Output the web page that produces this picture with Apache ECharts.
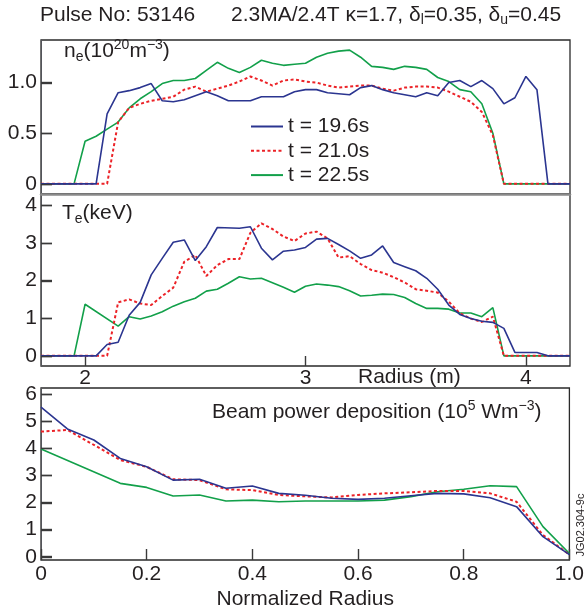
<!DOCTYPE html>
<html>
<head>
<meta charset="utf-8">
<script src="https://cdn.jsdelivr.net/npm/echarts@6/dist/echarts.min.js"></script>
<style>html,body{margin:0;padding:0;background:#fff;}#c{width:587px;height:614px;}</style>
</head>
<body>
<div id="c"></div>
<script>
// Major radius grid (m) for panels 1 and 2
var radius = [1.80,1.85,1.90,1.95,2.00,2.05,2.10,2.15,2.20,2.25,2.30,2.35,2.40,2.45,2.50,2.55,2.60,2.65,2.70,2.75,
  2.80,2.85,2.90,2.95,3.00,3.05,3.10,3.15,3.20,3.25,3.30,3.35,3.40,3.45,3.50,3.55,3.60,3.65,3.70,3.75,
  3.80,3.85,3.90,3.95,4.00,4.05,4.10,4.15,4.20];
var seriesNames = ['t = 19.6s', 't = 21.0s', 't = 22.5s'];

// Electron density ne (10^20 m^-3)
var ne196 = [0,0,0,0,0,0,0.69,0.90,0.92,0.95,0.99,0.82,0.81,0.83,0.87,0.91,0.87,0.82,0.82,0.82,
  0.86,0.86,0.86,0.91,0.93,0.93,0.90,0.89,0.88,0.95,0.97,0.93,0.90,0.88,0.86,0.90,0.87,1.00,1.02,0.96,
  1.02,0.94,0.79,0.85,1.06,0.93,0,0,0];
var ne210 = [0,0,0,0,0,0,0,0.61,0.75,0.79,0.82,0.84,0.86,0.93,0.96,0.91,0.94,0.97,1.01,1.06,
  1.02,0.97,1.02,1.03,1.01,1.00,0.97,0.95,0.96,0.97,0.97,0.94,0.92,0.95,0.96,0.96,0.95,0.91,0.86,0.81,
  0.71,0.48,0,0,0,0,0,0,0];
var ne225 = [0,0,0,0,0.42,0.47,0.54,0.61,0.75,0.84,0.91,0.99,1.02,1.02,1.04,1.12,1.20,1.14,1.10,1.15,
  1.22,1.19,1.17,1.18,1.19,1.25,1.29,1.31,1.32,1.25,1.16,1.15,1.13,1.16,1.15,1.13,1.05,1.01,0.93,0.91,
  0.79,0.50,0,0,0,0,0,0,0];

// Electron temperature Te (keV)
var te196 = [0,0,0,0,0,0,0.30,0.36,1.08,1.42,2.15,2.59,3.02,3.08,2.53,2.90,3.41,null,3.39,3.43,
  2.86,2.55,2.78,2.81,2.88,3.10,3.12,2.96,2.79,2.59,2.68,2.92,2.48,2.37,2.26,2.06,1.77,1.35,1.10,0.99,
  0.92,0.89,0.73,0.09,0.09,0.09,0,0,0];
var te210 = [0,0,0,0,0,0,0,1.42,1.50,1.39,1.35,1.59,1.81,2.50,2.68,2.12,2.41,2.57,2.57,3.27,
  3.52,3.37,3.17,3.05,3.25,3.30,3.12,2.61,2.65,2.44,2.28,2.21,2.09,1.95,1.77,1.73,1.68,1.44,1.13,0.99,
  0.90,1.04,0,0,0,0,0,0,0];
var te225 = [0,0,0,0,1.37,null,null,0.79,1.04,0.98,1.06,1.17,1.32,1.44,1.53,1.72,1.77,1.93,2.10,2.04,
  2.06,1.94,1.82,1.69,1.85,1.91,1.88,1.84,1.73,1.59,1.61,1.64,1.63,1.55,1.39,1.26,1.26,1.24,1.14,1.14,
  1.04,1.28,0,0,0,0,0,0,0];

// Beam power deposition (10^5 W m^-3) vs normalized radius
var rho = [0,0.05,0.10,0.15,0.20,0.25,0.30,0.35,0.40,0.45,0.50,0.55,0.60,0.65,0.70,0.75,0.80,0.85,0.90,0.95,1.0];
var pb196 = [5.52,4.72,4.31,3.63,3.32,2.83,2.86,2.53,2.61,2.34,2.27,2.16,2.12,2.16,2.25,2.34,2.32,2.18,1.85,0.74,0.08];
var pb210 = [4.62,4.68,4.13,3.57,3.32,2.86,2.83,2.49,2.46,2.28,2.23,2.19,2.28,2.34,2.38,2.43,2.43,2.34,2.03,0.80,0.08];
var pb225 = [3.98,null,null,2.71,2.56,2.24,2.28,2.06,2.09,2.03,2.06,2.06,2.06,2.09,2.22,2.40,2.49,2.62,2.59,1.11,0.12];

// Tick values
var neTicks = [0, 0.5, 1.0];
var teTicks = [0, 1, 2, 3, 4];
var rTicks = [2, 3, 4];
var pbTicks = [0, 1, 2, 3, 4, 5, 6];
var rhoTicks = [0, 0.2, 0.4, 0.6, 0.8, 1.0];

var colors = ['#2b3590', '#ec2227', '#12a04a'];
var FONT = "'Liberation Sans', Arial, Helvetica, sans-serif";
var TXT = '#231f20';
var TICK = { color: '#3a3a3a', width: 1.4 };

var rMin = 1.80, rMax = 4.20, rhoMin = 0, rhoMax = 1;
var plotW = 529, tickLen = 11;

function pairs(xs, ys) { return xs.map(function (x, i) { return [x, ys[i]]; }); }
function lineStyleFor(i) {
  return i === 1 ? { color: colors[1], width: 2, type: [3, 2.5] } : { color: colors[i], width: 1.6, type: 'solid' };
}
function mkSeries(gi, xs, arrs) {
  return arrs.map(function (ys, i) {
    return {
      name: seriesNames[i], type: 'line', xAxisIndex: gi, yAxisIndex: gi,
      data: pairs(xs, ys), symbol: 'none', connectNulls: true, silent: true,
      lineStyle: lineStyleFor(i), itemStyle: { color: colors[i] }, z: 3 - i + 2
    };
  });
}

var gridBase = { left: 41, width: plotW, show: true, borderColor: '#2a2a2a', borderWidth: 1.3, backgroundColor: 'transparent' };
var labelBase = { fontFamily: FONT, fontSize: 21, color: TXT };

function yAxisFor(gi, min, max, ticks, fmt) {
  return {
    type: 'value', gridIndex: gi, min: min, max: max,
    splitLine: { show: false },
    axisTick: { show: true, inside: true, length: tickLen, customValues: ticks, lineStyle: TICK },
    axisLabel: Object.assign({ show: true, margin: 4, customValues: ticks, formatter: fmt }, labelBase)
  };
}

var baseGraphic = [
  { type: 'text', x: 40, y: 15, style: { text: 'Pulse No: 53146', font: '21px ' + FONT, fill: TXT, verticalAlign: 'middle' } },
  { type: 'text', x: 231, y: 15, style: {
    text: '{a|2.3MA/2.4T κ=1.7, δ}{s|l}{a|=0.35, δ}{s|u}{a|=0.45}', verticalAlign: 'middle',
    rich: { a: { fontSize: 21, fontFamily: FONT, fill: TXT, lineHeight: 24 },
            s: { fontSize: 14, fontFamily: FONT, fill: TXT, lineHeight: 14, verticalAlign: 'bottom' } } } },
  { type: 'text', x: 64, y: 51, z: 20, style: {
    text: '{a|n}{s|e}{a|(10}{p|20}{a|m}{p|−3}{a|)}', verticalAlign: 'middle',
    rich: { a: { fontSize: 21, fontFamily: FONT, fill: TXT, lineHeight: 26 },
            s: { fontSize: 14, fontFamily: FONT, fill: TXT, lineHeight: 14, verticalAlign: 'bottom' },
            p: { fontSize: 14, fontFamily: FONT, fill: TXT, lineHeight: 14, verticalAlign: 'top' } } } },
  { type: 'text', x: 62, y: 213, z: 20, style: {
    text: '{a|T}{s|e}{a|(keV)}', verticalAlign: 'middle',
    rich: { a: { fontSize: 21, fontFamily: FONT, fill: TXT, lineHeight: 26 },
            s: { fontSize: 14, fontFamily: FONT, fill: TXT, lineHeight: 14, verticalAlign: 'bottom' } } } },
  { type: 'text', x: 358, y: 377, z: 20, style: { text: 'Radius (m)', font: '21px ' + FONT, fill: TXT, verticalAlign: 'middle' } },
  { type: 'text', x: 212, y: 412, z: 20, style: {
    text: '{a|Beam power deposition (10}{p|5}{a| Wm}{p|−3}{a|)}', verticalAlign: 'middle',
    rich: { a: { fontSize: 21, fontFamily: FONT, fill: TXT, lineHeight: 26 },
            p: { fontSize: 14, fontFamily: FONT, fill: TXT, lineHeight: 14, verticalAlign: 'top' } } } },
  { type: 'text', x: 581, y: 525, rotation: Math.PI / 2, z: 20, style: {
    text: 'JG02.304-9c', font: '11px ' + FONT, fill: TXT, align: 'center', verticalAlign: 'middle' } }
];

var option = {
  animation: false,
  backgroundColor: '#fff',
  textStyle: { fontFamily: FONT },
  grid: [
    Object.assign({ top: 40, height: 154 }, gridBase),
    Object.assign({ top: 194, height: 172 }, gridBase),
    Object.assign({ top: 388, height: 172 }, gridBase)
  ],
  xAxis: [
    { type: 'value', gridIndex: 0, min: rMin, max: rMax, z: 10, position: 'bottom',
      splitLine: { show: false }, axisTick: { show: false }, axisLabel: { show: false },
      axisLine: { show: true, onZero: false, lineStyle: { color: '#8a8a8a', width: 2.5 } } },
    { type: 'value', gridIndex: 1, min: rMin, max: rMax, position: 'bottom',
      splitLine: { show: false }, axisLine: { show: false, onZero: false },
      axisTick: { show: true, inside: true, length: 10, customValues: rTicks, lineStyle: TICK },
      axisLabel: Object.assign({ show: true, margin: 2, customValues: rTicks, formatter: function (v) { return String(v); } }, labelBase) },
    { type: 'value', gridIndex: 2, min: rhoMin, max: rhoMax, position: 'bottom',
      splitLine: { show: false }, axisLine: { show: false, onZero: false },
      axisTick: { show: true, inside: true, length: tickLen, customValues: rhoTicks, lineStyle: TICK },
      axisLabel: Object.assign({ show: true, margin: 4, customValues: rhoTicks,
        formatter: function (v) { return v === 0 ? '0' : v.toFixed(1); } }, labelBase),
      name: 'Normalized Radius', nameLocation: 'middle', nameGap: 29,
      nameTextStyle: { fontFamily: FONT, fontSize: 21, color: TXT } }
  ],
  yAxis: [
    yAxisFor(0, -0.1, 1.42, neTicks, function (v) { return v === 0 ? '0' : v.toFixed(1); }),
    yAxisFor(1, -0.27, 4.30, teTicks, function (v) { return String(v); }),
    yAxisFor(2, -0.12, 6.23, pbTicks, function (v) { return String(v); })
  ],
  legend: {
    data: seriesNames, orient: 'vertical', left: 250, top: 116, padding: 0,
    itemWidth: 32, itemHeight: 20, itemGap: 3.3,
    itemStyle: { color: 'rgba(0,0,0,0)', borderWidth: 0, opacity: 0 },
    selectedMode: false, textStyle: { fontFamily: FONT, fontSize: 21, color: TXT }
  },
  series: [].concat(
    mkSeries(0, radius, [ne196, ne210, ne225]),
    mkSeries(1, radius, [te196, te210, te225]),
    mkSeries(2, rho, [pb196, pb210, pb225])
  ),
  graphic: baseGraphic
};

var chart = echarts.init(document.getElementById('c'), null, { renderer: 'canvas' });
chart.setOption(option);

// Left-frame inside ticks, positioned through the library's own axis scales
var tickGraphics = [];
[[0, neTicks, rMin], [1, teTicks, rMin], [2, pbTicks, rhoMin]].forEach(function (cfg) {
  cfg[1].forEach(function (v) {
    var p = chart.convertToPixel({ gridIndex: cfg[0] }, [cfg[2], v]);
    if (p) {
      var y = Math.round(p[1]) + 0.5;
      tickGraphics.push({ type: 'line', z: 50, silent: true,
        shape: { x1: p[0], y1: y, x2: p[0] + tickLen, y2: y },
        style: { stroke: TICK.color, lineWidth: TICK.width } });
    }
  });
});
chart.setOption({ graphic: baseGraphic.concat(tickGraphics) });
</script>
</body>
</html>
